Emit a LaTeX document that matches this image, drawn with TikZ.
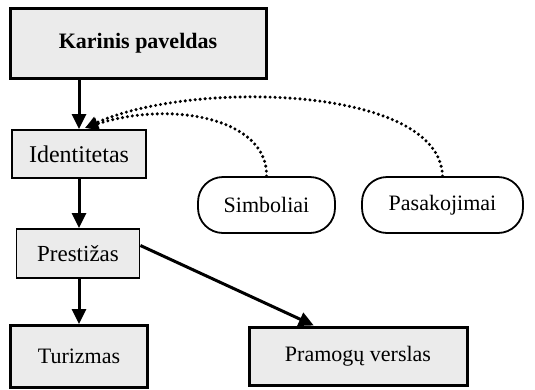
\documentclass[tikz,border=0pt]{standalone}
\usepackage{fontspec}
\setmainfont{Liberation Serif}
\usetikzlibrary{arrows.meta,calc,positioning}
\definecolor{boxgray}{HTML}{EBEBEB}

\begin{document}
\begin{tikzpicture}[x=1pt,y=-1pt,>={Triangle[length=15pt,width=14pt]},font=\fontsize{22}{26}\selectfont]
    \tikzstyle{thin}=[rectangle, draw, fill=boxgray, line width=1.8pt]
    \tikzstyle{main}=[rectangle, draw, fill=boxgray, line width=3pt]
    \tikzstyle{story}=[rectangle, rounded corners=25pt, draw, line width=1.8pt]
    \tikzstyle{link}=[->, line width=3pt]
    \tikzstyle{dots}=[-{Triangle[length=13pt,width=12pt]}, line width=3.4pt, dash pattern=on 0pt off 5pt, line cap=round]

    \useasboundingbox (0,0) rectangle (535,389);

    \node[main, minimum width=256pt, minimum height=70pt] (karinis) at (138,43) {\textbf{Karinis paveldas}};
    \node[thin, minimum width=134pt, minimum height=48pt, font=\fontsize{24}{28}\selectfont] (ident) at (79,154) {Identitetas};
    \node[thin, minimum width=123pt, minimum height=49pt, font=\fontsize{23}{27}\selectfont] (prest) at (78,253.5) {Prestižas};
    \node[main, minimum width=137pt, minimum height=62pt] (turizm) at (79,356.5) {Turizmas};
    \node[main, minimum width=218pt, minimum height=58pt] (pramog) at (358,356) {Pramogų verslas};
    \node[story, minimum width=137pt, minimum height=56pt] (simb) at (266.5,205) {Simboliai};
    \node[story, minimum width=161pt, minimum height=56pt] (pasak) at (442.5,205) {Pasakojimai};

    \coordinate (tip) at (85,128);

    \draw[link] (karinis.south -| ident.north) -- (ident.north);
    \draw[link] (ident.south) -- (ident.south |- prest.north);
    \draw[link] (ident.south |- prest.south) -- (ident.south |- turizm.north);
    \draw[link] (prest.east) ++(0,-8) -- ($(pramog.north west)!0.3!(pramog.north east)$);

    \draw[dots] (simb.north) .. controls (268,118) and (170,100) .. (tip);
    \draw[dots] (pasak.north) .. controls (440,85) and (190,80) .. (tip);
\end{tikzpicture}
\end{document}
